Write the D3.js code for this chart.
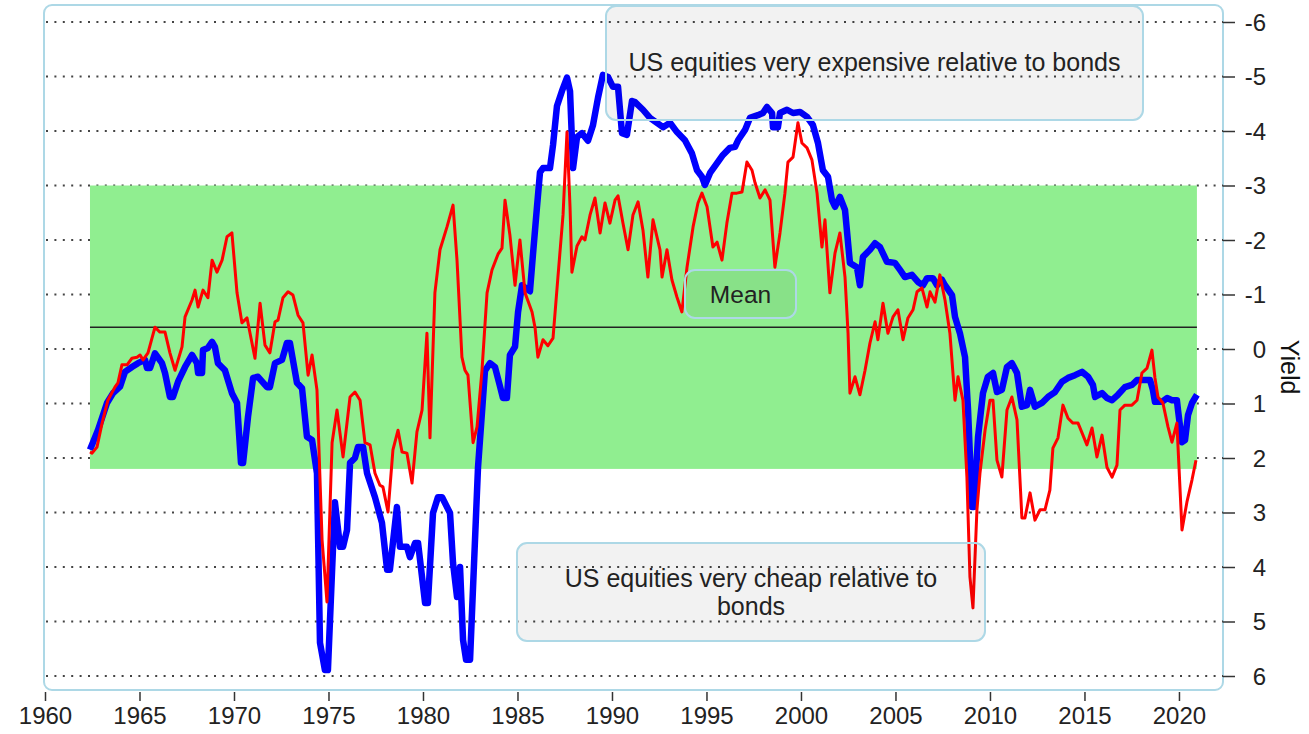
<!DOCTYPE html>
<html>
<head>
<meta charset="utf-8">
<script src="https://cdnjs.cloudflare.com/ajax/libs/d3/7.8.5/d3.min.js"></script>
<style>
  html, body { margin: 0; padding: 0; background: #fff; }
  svg { display: block; font-family: "Liberation Sans", Arial, Helvetica, sans-serif; }
</style>
</head>
<body>
<svg id="chart" width="1309" height="734"></svg>
<script>
// ---- Data ----
const blueDates = [1962.38,1962.80,1963.28,1963.60,1963.97,1964.23,1964.60,1964.92,1965.29,1965.40,1965.56,1965.82,1966.19,1966.35,1966.61,1966.77,1967.04,1967.41,1967.78,1968.04,1968.10,1968.31,1968.36,1968.62,1968.84,1968.99,1969.15,1969.52,1969.89,1970.16,1970.37,1970.48,1970.74,1971.01,1971.27,1971.75,1971.90,1972.17,1972.54,1972.80,1972.96,1973.33,1973.60,1973.86,1974.13,1974.39,1974.55,1974.81,1974.97,1975.34,1975.61,1975.77,1975.98,1976.14,1976.40,1976.56,1976.83,1977.04,1977.46,1977.83,1978.10,1978.25,1978.62,1978.78,1979.15,1979.31,1979.58,1979.74,1980.11,1980.26,1980.53,1980.79,1981.01,1981.43,1981.59,1981.80,1981.96,1982.12,1982.28,1982.49,1982.91,1983.28,1983.54,1983.81,1984.07,1984.23,1984.44,1984.60,1984.87,1985.03,1985.24,1985.50,1985.66,1985.82,1986.03,1986.19,1986.35,1986.72,1986.88,1987.09,1987.35,1987.62,1987.78,1987.94,1988.15,1988.41,1988.73,1988.99,1989.26,1989.52,1989.79,1990.05,1990.32,1990.53,1990.79,1991.06,1991.22,1991.64,1992.01,1992.38,1992.70,1993.07,1993.44,1993.86,1994.23,1994.50,1994.76,1994.92,1995.19,1995.56,1995.87,1996.24,1996.51,1996.67,1997.04,1997.30,1997.72,1997.99,1998.20,1998.47,1998.52,1998.78,1998.89,1999.26,1999.58,1999.95,2000.32,2000.63,2000.90,2001.16,2001.43,2001.64,2001.80,2002.06,2002.33,2002.59,2002.96,2003.12,2003.28,2003.65,2003.92,2004.18,2004.55,2004.97,2005.24,2005.50,2005.87,2006.19,2006.46,2006.67,2006.98,2007.20,2007.46,2007.62,2007.99,2008.15,2008.41,2008.68,2008.84,2009.05,2009.15,2009.37,2009.63,2009.89,2010.16,2010.37,2010.63,2010.90,2011.16,2011.43,2011.69,2011.96,2012.12,2012.38,2012.75,2013.07,2013.44,2013.81,2014.13,2014.50,2014.87,2015.19,2015.45,2015.56,2015.93,2016.19,2016.46,2016.77,2017.14,2017.51,2017.78,2018.04,2018.47,2018.62,2018.73,2019.10,2019.37,2019.63,2019.89,2019.95,2020.16,2020.32,2020.48,2020.69,2020.95];
const blueValues = [1.85,1.49,0.99,0.81,0.69,0.42,0.33,0.26,0.20,0.35,0.35,0.08,0.26,0.44,0.88,0.88,0.60,0.33,0.11,0.26,0.44,0.44,0.02,-0.02,-0.13,-0.04,0.26,0.39,0.81,0.99,2.09,2.09,1.25,0.53,0.51,0.70,0.70,0.26,0.20,-0.11,-0.11,0.62,0.72,1.61,1.67,2.28,5.39,5.89,5.89,2.81,3.63,3.63,3.32,2.09,2.00,1.80,1.80,2.28,2.72,3.19,4.05,4.05,2.90,3.63,3.63,3.82,3.56,3.56,4.66,4.66,3.01,2.72,2.72,3.01,3.93,4.55,4.00,5.34,5.70,5.70,2.18,0.40,0.26,0.33,0.68,0.90,0.90,0.11,-0.04,-0.68,-1.17,-1.10,-1.06,-1.74,-2.60,-3.24,-3.32,-3.32,-3.74,-4.46,-4.73,-4.98,-4.73,-3.32,-3.89,-3.96,-3.82,-4.10,-4.61,-5.03,-4.99,-4.81,-4.81,-3.96,-3.93,-4.55,-4.53,-4.39,-4.24,-4.15,-4.07,-4.15,-3.98,-3.83,-3.59,-3.28,-3.16,-3.01,-3.23,-3.41,-3.56,-3.69,-3.71,-3.83,-4.02,-4.24,-4.29,-4.33,-4.44,-4.33,-4.07,-4.07,-4.33,-4.39,-4.33,-4.35,-4.26,-4.11,-3.78,-3.28,-3.16,-2.73,-2.61,-2.79,-2.55,-1.58,-1.50,-1.17,-1.69,-1.82,-1.94,-1.87,-1.60,-1.58,-1.45,-1.32,-1.36,-1.23,-1.17,-1.30,-1.30,-1.17,-1.27,-1.17,-0.99,-0.59,-0.29,0.15,1.12,2.90,2.90,1.61,0.81,0.51,0.44,0.79,0.75,0.33,0.26,0.44,1.06,1.03,0.75,1.06,0.99,0.88,0.79,0.60,0.53,0.48,0.42,0.51,0.66,0.88,0.81,0.90,0.94,0.84,0.70,0.66,0.57,0.57,0.57,0.75,0.97,0.97,0.90,0.94,0.94,1.12,1.71,1.67,1.21,0.99,0.84];

const redDates = [1962.38,1962.49,1962.75,1963.02,1963.33,1963.70,1963.86,1964.07,1964.34,1964.60,1964.87,1965.03,1965.19,1965.45,1965.82,1966.08,1966.35,1966.61,1966.88,1967.25,1967.41,1967.78,1967.94,1968.10,1968.36,1968.62,1968.84,1969.10,1969.37,1969.63,1969.89,1970.16,1970.42,1970.69,1971.11,1971.38,1971.64,1971.90,1972.17,1972.33,1972.59,1972.86,1973.12,1973.39,1973.65,1973.92,1974.13,1974.39,1974.66,1974.92,1975.19,1975.45,1975.77,1976.14,1976.40,1976.67,1976.93,1977.20,1977.46,1977.72,1977.88,1978.15,1978.41,1978.68,1978.89,1979.15,1979.42,1979.68,1979.95,1980.21,1980.37,1980.63,1980.90,1981.27,1981.59,1981.80,1982.06,1982.22,1982.38,1982.65,1982.86,1983.12,1983.39,1983.65,1983.97,1984.18,1984.34,1984.60,1984.87,1985.13,1985.40,1985.77,1985.93,1986.08,1986.35,1986.61,1986.88,1987.14,1987.41,1987.62,1987.78,1987.88,1988.15,1988.41,1988.57,1988.84,1989.10,1989.37,1989.63,1989.89,1990.16,1990.32,1990.58,1990.85,1991.11,1991.38,1991.64,1991.90,1992.17,1992.54,1992.65,1992.91,1993.17,1993.44,1993.70,1993.97,1994.29,1994.55,1994.76,1995.03,1995.34,1995.56,1995.82,1996.08,1996.35,1996.61,1996.88,1997.14,1997.41,1997.57,1997.83,1998.10,1998.36,1998.62,1998.89,1999.15,1999.31,1999.58,1999.84,2000.05,2000.32,2000.58,2000.85,2001.11,2001.27,2001.53,2001.80,2002.06,2002.33,2002.49,2002.59,2002.86,2003.12,2003.39,2003.65,2003.92,2004.07,2004.34,2004.60,2004.87,2005.13,2005.40,2005.66,2005.93,2006.14,2006.40,2006.67,2006.83,2007.09,2007.35,2007.62,2007.88,2008.15,2008.31,2008.57,2008.78,2008.94,2009.10,2009.31,2009.47,2009.74,2010.00,2010.16,2010.37,2010.63,2010.90,2011.16,2011.43,2011.69,2011.85,2012.12,2012.38,2012.65,2012.91,2013.17,2013.33,2013.60,2013.86,2014.13,2014.39,2014.66,2014.92,2015.13,2015.40,2015.66,2015.93,2016.19,2016.46,2016.72,2016.88,2017.14,2017.51,2017.78,2018.04,2018.31,2018.57,2018.73,2018.89,2019.15,2019.42,2019.63,2019.89,2020.16,2020.42,2020.69,2020.90];
const redValues = [1.89,1.91,1.80,1.36,0.94,0.70,0.62,0.29,0.29,0.17,0.15,0.11,0.20,0.07,-0.40,-0.31,-0.31,0.07,0.39,-0.04,-0.59,-0.90,-1.08,-0.77,-1.08,-0.94,-1.63,-1.41,-1.63,-2.06,-2.13,-1.03,-0.48,-0.57,0.17,-0.84,-0.07,0.07,-0.50,-0.53,-0.94,-1.05,-0.99,-0.62,-0.48,0.48,0.11,0.75,3.50,4.64,1.72,1.12,1.98,0.88,0.79,0.94,1.72,1.76,2.28,2.50,2.53,2.99,1.85,1.49,1.89,1.91,2.46,1.52,1.12,-0.29,1.63,-1.03,-1.82,-2.24,-2.64,-1.63,0.15,0.39,0.48,1.72,1.43,0.40,-1.03,-1.45,-1.74,-1.85,-2.73,-2.09,-1.17,-2.00,-1.03,-0.68,-0.39,0.15,-0.17,-0.06,-0.20,-1.32,-2.46,-3.98,-2.61,-1.41,-1.89,-2.06,-2.00,-2.46,-2.77,-2.13,-2.68,-2.31,-2.73,-2.81,-2.31,-1.82,-2.46,-2.70,-2.18,-1.32,-2.37,-1.82,-1.32,-1.82,-1.27,-0.95,-0.68,-1.50,-2.24,-2.68,-2.86,-2.61,-1.87,-1.96,-1.63,-2.31,-2.86,-2.86,-2.88,-3.43,-3.28,-3.05,-2.77,-2.92,-2.73,-1.50,-2.13,-2.86,-3.43,-3.52,-4.15,-3.78,-3.69,-3.47,-2.86,-1.87,-2.37,-1.03,-1.76,-2.13,-1.32,-0.29,0.81,0.51,0.84,0.39,-0.11,-0.50,-0.17,-0.84,-0.29,-0.59,-0.72,-0.17,-0.57,-0.72,-1.05,-1.12,-0.77,-1.05,-0.86,-1.36,-0.90,-0.29,0.94,0.51,0.94,2.35,4.18,4.75,2.95,2.28,1.49,0.94,0.94,2.04,2.35,1.12,0.88,1.30,3.10,3.10,2.64,3.14,2.95,2.95,2.59,1.82,1.63,1.03,1.27,1.36,1.36,1.58,1.76,1.45,1.98,1.58,2.17,2.35,2.13,1.12,1.03,1.03,0.94,0.44,0.35,0.02,0.53,0.88,0.99,1.43,1.71,1.36,3.32,2.81,2.40,2.04];

const meanValue = -0.4;
const bandLow = -3.0;
const bandHigh = 2.2;
const xTicks = [1960, 1965, 1970, 1975, 1980, 1985, 1990, 1995, 2000, 2005, 2010, 2015, 2020];
const yTicks = [-6, -5, -4, -3, -2, -1, 0, 1, 2, 3, 4, 5, 6];
const yTitle = "Yield";
const noteTop = "US equities very expensive relative to bonds";
const noteBottom = ["US equities very cheap relative to", "bonds"];
const noteMean = "Mean";

// ---- Layout ----
const svg = d3.select("#chart");
const plot = { left: 44, right: 1223, top: 5, bottom: 690 };

const x = d3.scaleLinear().domain([1960, 2022.33]).range([45, 1223]);
const y = d3.scaleLinear().domain([-6, 6]).range([22, 676]);

// frame
svg.append("rect")
  .attr("x", plot.left).attr("y", plot.top)
  .attr("width", plot.right - plot.left).attr("height", plot.bottom - plot.top)
  .attr("rx", 8).attr("ry", 8)
  .attr("fill", "none").attr("stroke", "#add8e6").attr("stroke-width", 2);

// dotted grid
svg.append("g").selectAll("line").data(yTicks).join("line")
  .attr("x1", plot.left + 2).attr("x2", plot.right)
  .attr("y1", d => y(d)).attr("y2", d => y(d))
  .attr("stroke", "#444").attr("stroke-width", 2)
  .attr("stroke-dasharray", "2,6.4");

// green band
const allDates = blueDates.concat(redDates);
const dMin = d3.min(allDates), dMax = d3.max(allDates);
svg.append("rect")
  .attr("x", x(dMin)).attr("width", x(dMax) - x(dMin))
  .attr("y", y(bandLow)).attr("height", y(bandHigh) - y(bandLow))
  .attr("fill", "#90ee90");

// mean line
svg.append("line")
  .attr("x1", x(dMin)).attr("x2", x(dMax))
  .attr("y1", y(meanValue)).attr("y2", y(meanValue))
  .attr("stroke", "#222").attr("stroke-width", 1.6);

// series
const line = d3.line().x(d => x(d[0])).y(d => y(d[1]));
svg.append("path")
  .datum(blueDates.map((d, i) => [d, blueValues[i]]))
  .attr("d", line).attr("fill", "none")
  .attr("stroke", "#0000ff").attr("stroke-width", 6.5)
  .attr("stroke-linejoin", "round");
svg.append("path")
  .datum(redDates.map((d, i) => [d, redValues[i]]))
  .attr("d", line).attr("fill", "none")
  .attr("stroke", "#ff0000").attr("stroke-width", 3)
  .attr("stroke-linejoin", "round");

// x axis
const xAxis = svg.append("g").attr("transform", `translate(0,${plot.bottom + 2})`)
  .call(d3.axisBottom(x).tickValues(xTicks).tickSize(9).tickSizeOuter(0).tickFormat(d3.format("d")));
xAxis.select(".domain").remove();
xAxis.selectAll(".tick line").attr("stroke", "#333").attr("stroke-width", 1.5);
xAxis.selectAll(".tick text").attr("font-size", 24).attr("fill", "#222")
  .attr("font-family", "'Liberation Sans', Arial, sans-serif").attr("y", 15).attr("dy", "0.71em");

// y axis (right)
const yAxis = svg.append("g").attr("transform", `translate(${plot.right},0)`)
  .call(d3.axisRight(y).tickValues(yTicks).tickSize(12).tickSizeOuter(0).tickFormat(d => String(d)));
yAxis.select(".domain").remove();
yAxis.selectAll(".tick line").attr("stroke", "#333").attr("stroke-width", 1.5);
yAxis.selectAll(".tick text").attr("font-size", 24).attr("fill", "#222")
  .attr("font-family", "'Liberation Sans', Arial, sans-serif")
  .attr("text-anchor", "end").attr("x", 43).attr("dy", "0.35em");

// y title
svg.append("text")
  .attr("transform", "translate(1281,367) rotate(90)")
  .attr("text-anchor", "middle")
  .attr("font-size", 25).attr("fill", "#111")
  .text(yTitle);

// annotation boxes
function box(x0, y0, x1, y1) {
  svg.append("rect")
    .attr("x", x0).attr("y", y0).attr("width", x1 - x0).attr("height", y1 - y0)
    .attr("rx", 10).attr("ry", 10)
    .attr("fill", "rgba(0,0,0,0.05)")
    .attr("stroke", "#add8e6").attr("stroke-width", 2);
}
box(606, 6, 1143, 120);
svg.append("text").attr("x", 874.5).attr("y", 62).attr("dy", "0.35em")
  .attr("text-anchor", "middle").attr("font-size", 25).attr("fill", "#222").text(noteTop);

box(685, 270, 796, 318);
svg.append("text").attr("x", 740.5).attr("y", 294).attr("dy", "0.35em")
  .attr("text-anchor", "middle").attr("font-size", 24.5).attr("fill", "#222").text(noteMean);

box(517, 543, 985, 641);
noteBottom.forEach((t, i) => {
  svg.append("text").attr("x", 751).attr("y", 578 + i * 28).attr("dy", "0.35em")
    .attr("text-anchor", "middle").attr("font-size", 25).attr("fill", "#222").text(t);
});
</script>
</body>
</html>
